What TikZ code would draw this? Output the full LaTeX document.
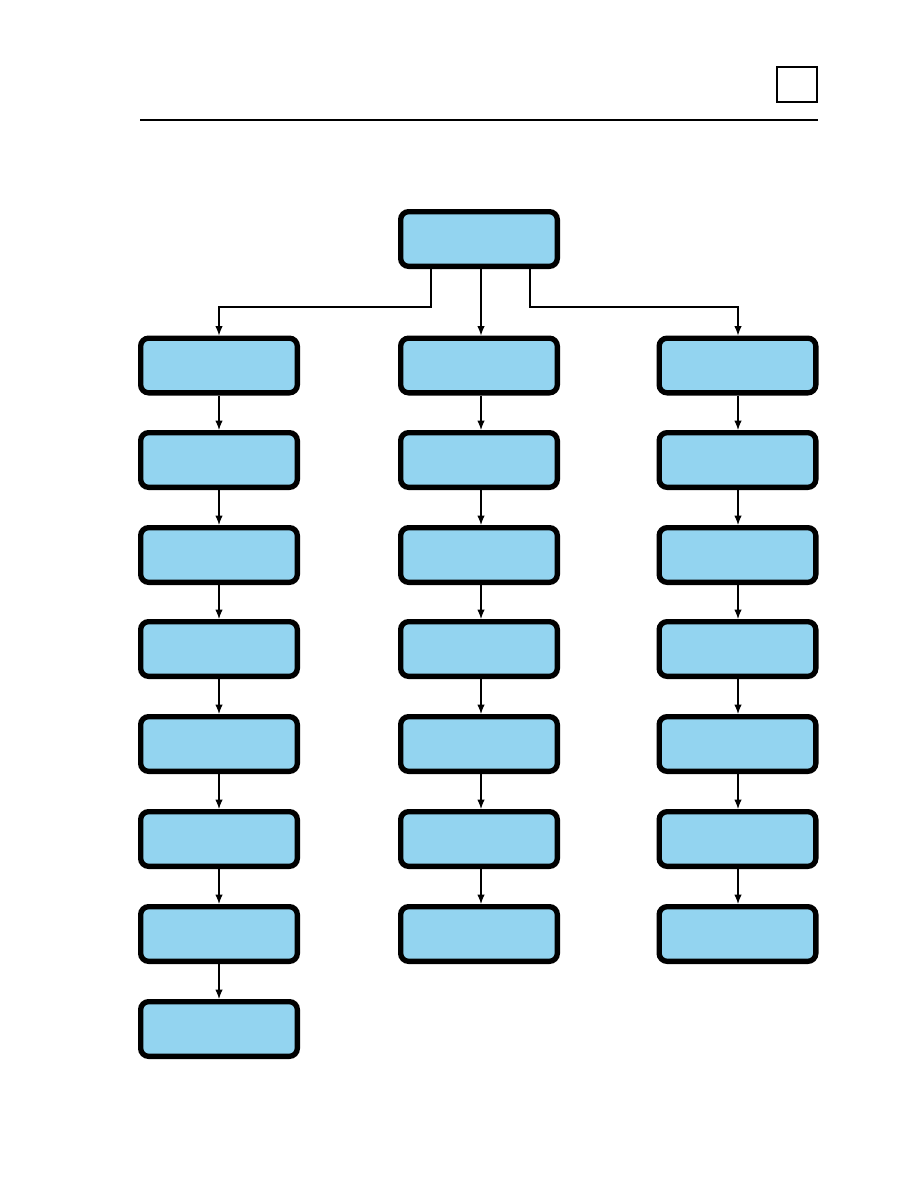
\documentclass[tikz,border=0pt]{standalone}
\usetikzlibrary{arrows.meta,calc}
\definecolor{boxblue}{RGB}{147,212,240}
\begin{document}
\begin{tikzpicture}[x=0.75pt,y=-0.75pt,
  stepbox/.style={draw=black, line width=4pt, fill=boxblue, rounded corners=6pt,
    minimum width=117.5pt, minimum height=41pt, inner sep=0pt},
  arr/.style={line width=0.9pt, -{Latex[length=7pt,width=5.5pt]}},
  tab/.style={draw=black, line width=1.6pt, fill=white, minimum width=30pt, minimum height=26.25pt, inner sep=0pt}]
\useasboundingbox (0,0) rectangle (918,1188);
% header
\node[tab] (tab) at (797,84.5) {};
\draw[line width=1.6pt] (140,120) -- (818,120);
% top box
\node[stepbox] (top) at (479,239) {};
% columns
\foreach \i/\y in {1/365.5,2/460,3/555,4/649,5/744,6/839,7/934,8/1029}{
  \node[stepbox] (l\i) at (219,\y) {};
}
\foreach \i/\y in {1/365.5,2/460,3/555,4/649,5/744,6/839,7/934}{
  \node[stepbox] (m\i) at (479,\y) {};
  \node[stepbox] (r\i) at (737.5,\y) {};
}
% connectors from top
\draw[arr] ([xshift=-36pt]top.south) -- ++(0,38) -| ([xshift=0pt]l1.north);
\draw[arr] ([xshift=1.5pt]top.south) -- ([xshift=1.5pt]m1.north);
\draw[arr] ([xshift=38.25pt]top.south) -- ++(0,38) -| ([xshift=0.375pt]r1.north);
% column connectors
\foreach \a/\b in {1/2,2/3,3/4,4/5,5/6,6/7,7/8}{
  \draw[arr] (l\a.south) -- (l\b.north);
}
\foreach \a/\b in {1/2,2/3,3/4,4/5,5/6,6/7}{
  \draw[arr] ([xshift=1.5pt]m\a.south) -- ([xshift=1.5pt]m\b.north);
  \draw[arr] ([xshift=0.375pt]r\a.south) -- ([xshift=0.375pt]r\b.north);
}
\end{tikzpicture}
\end{document}
